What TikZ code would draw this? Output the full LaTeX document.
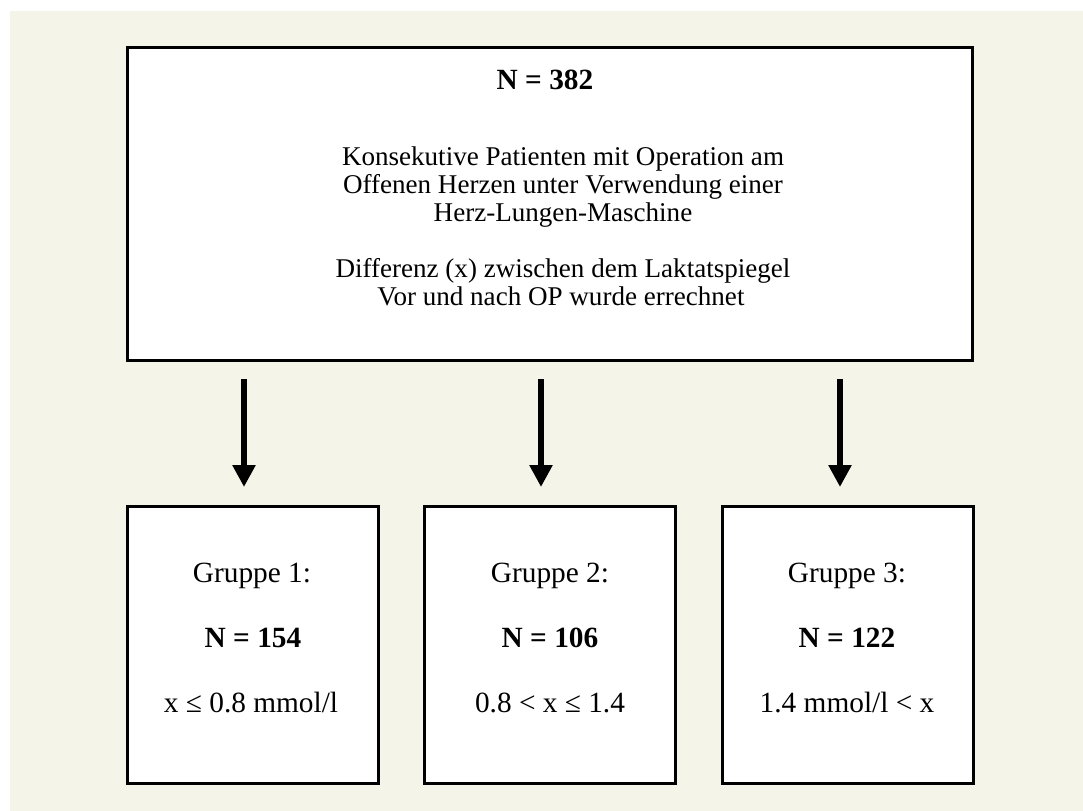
\documentclass[tikz,border=0pt]{standalone}
\usepackage{fontspec}
\setmainfont{Liberation Serif}
\usetikzlibrary{arrows.meta}
\definecolor{bg}{HTML}{F4F4E8}
\begin{document}
\begin{tikzpicture}[x=0.75pt,y=-0.75pt,
  box/.style={draw=black, line width=2.25pt, fill=white, inner sep=0pt, outer sep=0pt},
  txt/.style={font=\fontsize{20.3}{21}\selectfont, anchor=base, inner sep=0pt},
  gtxt/.style={font=\fontsize{22}{23}\selectfont, anchor=base, inner sep=0pt},
  arr/.style={line width=4.5pt, -{Triangle[length=16.5pt,width=16.5pt]}}]
\fill[white] (0,0) rectangle (1083,811);
\fill[bg] (10,11) rectangle (1083,811);
\useasboundingbox (0,0) rectangle (1083,811);
% boxes
\node[box, minimum width=633.75pt, minimum height=234.75pt] (top) at (549.5,203.5) {};
\node[box, minimum width=188.25pt, minimum height=207.75pt] (g1) at (252.5,644.5) {};
\node[box, minimum width=188.25pt, minimum height=207.75pt] (g2) at (550,644.5) {};
\node[box, minimum width=188.25pt, minimum height=207.75pt] (g3) at (847.5,644.5) {};
% top text
\node[gtxt, font=\fontsize{22}{23}\selectfont\bfseries] (n0) at (545,89) {N = 382};
\node[txt] (t1) at (563,165) {Konsekutive Patienten mit Operation am};
\node[txt] (t2) at (563,193) {Offenen Herzen unter Verwendung einer};
\node[txt] (t3) at (563,221) {Herz-Lungen-Maschine};
\node[txt] (t4) at (563,277) {Differenz (x) zwischen dem Laktatspiegel};
\node[txt] (t5) at (561,305) {Vor und nach OP wurde errechnet};
% group texts
\node[gtxt] (g1a) at (252,582) {Gruppe 1:};
\node[gtxt] (g1b) at (253,647) {\textbf{N = 154}};
\node[gtxt] (g1c) at (251,712) {x ≤ 0.8 mmol/l};
\node[gtxt] (g2a) at (550,582) {Gruppe 2:};
\node[gtxt] (g2b) at (550,647) {\textbf{N = 106}};
\node[gtxt] (g2c) at (550,712) {0.8 < x ≤ 1.4};
\node[gtxt] (g3a) at (847,582) {Gruppe 3:};
\node[gtxt] (g3b) at (847,647) {\textbf{N = 122}};
\node[gtxt] (g3c) at (847,712) {1.4 mmol/l < x};
% arrows
\coordinate (a1s) at (244,379); \coordinate (a1e) at (244,487);
\coordinate (a2s) at (541,379); \coordinate (a2e) at (541,487);
\coordinate (a3s) at (840,379); \coordinate (a3e) at (840,487);
\draw[arr] (a1s) -- (a1e);
\draw[arr] (a2s) -- (a2e);
\draw[arr] (a3s) -- (a3e);
\end{tikzpicture}
\end{document}
